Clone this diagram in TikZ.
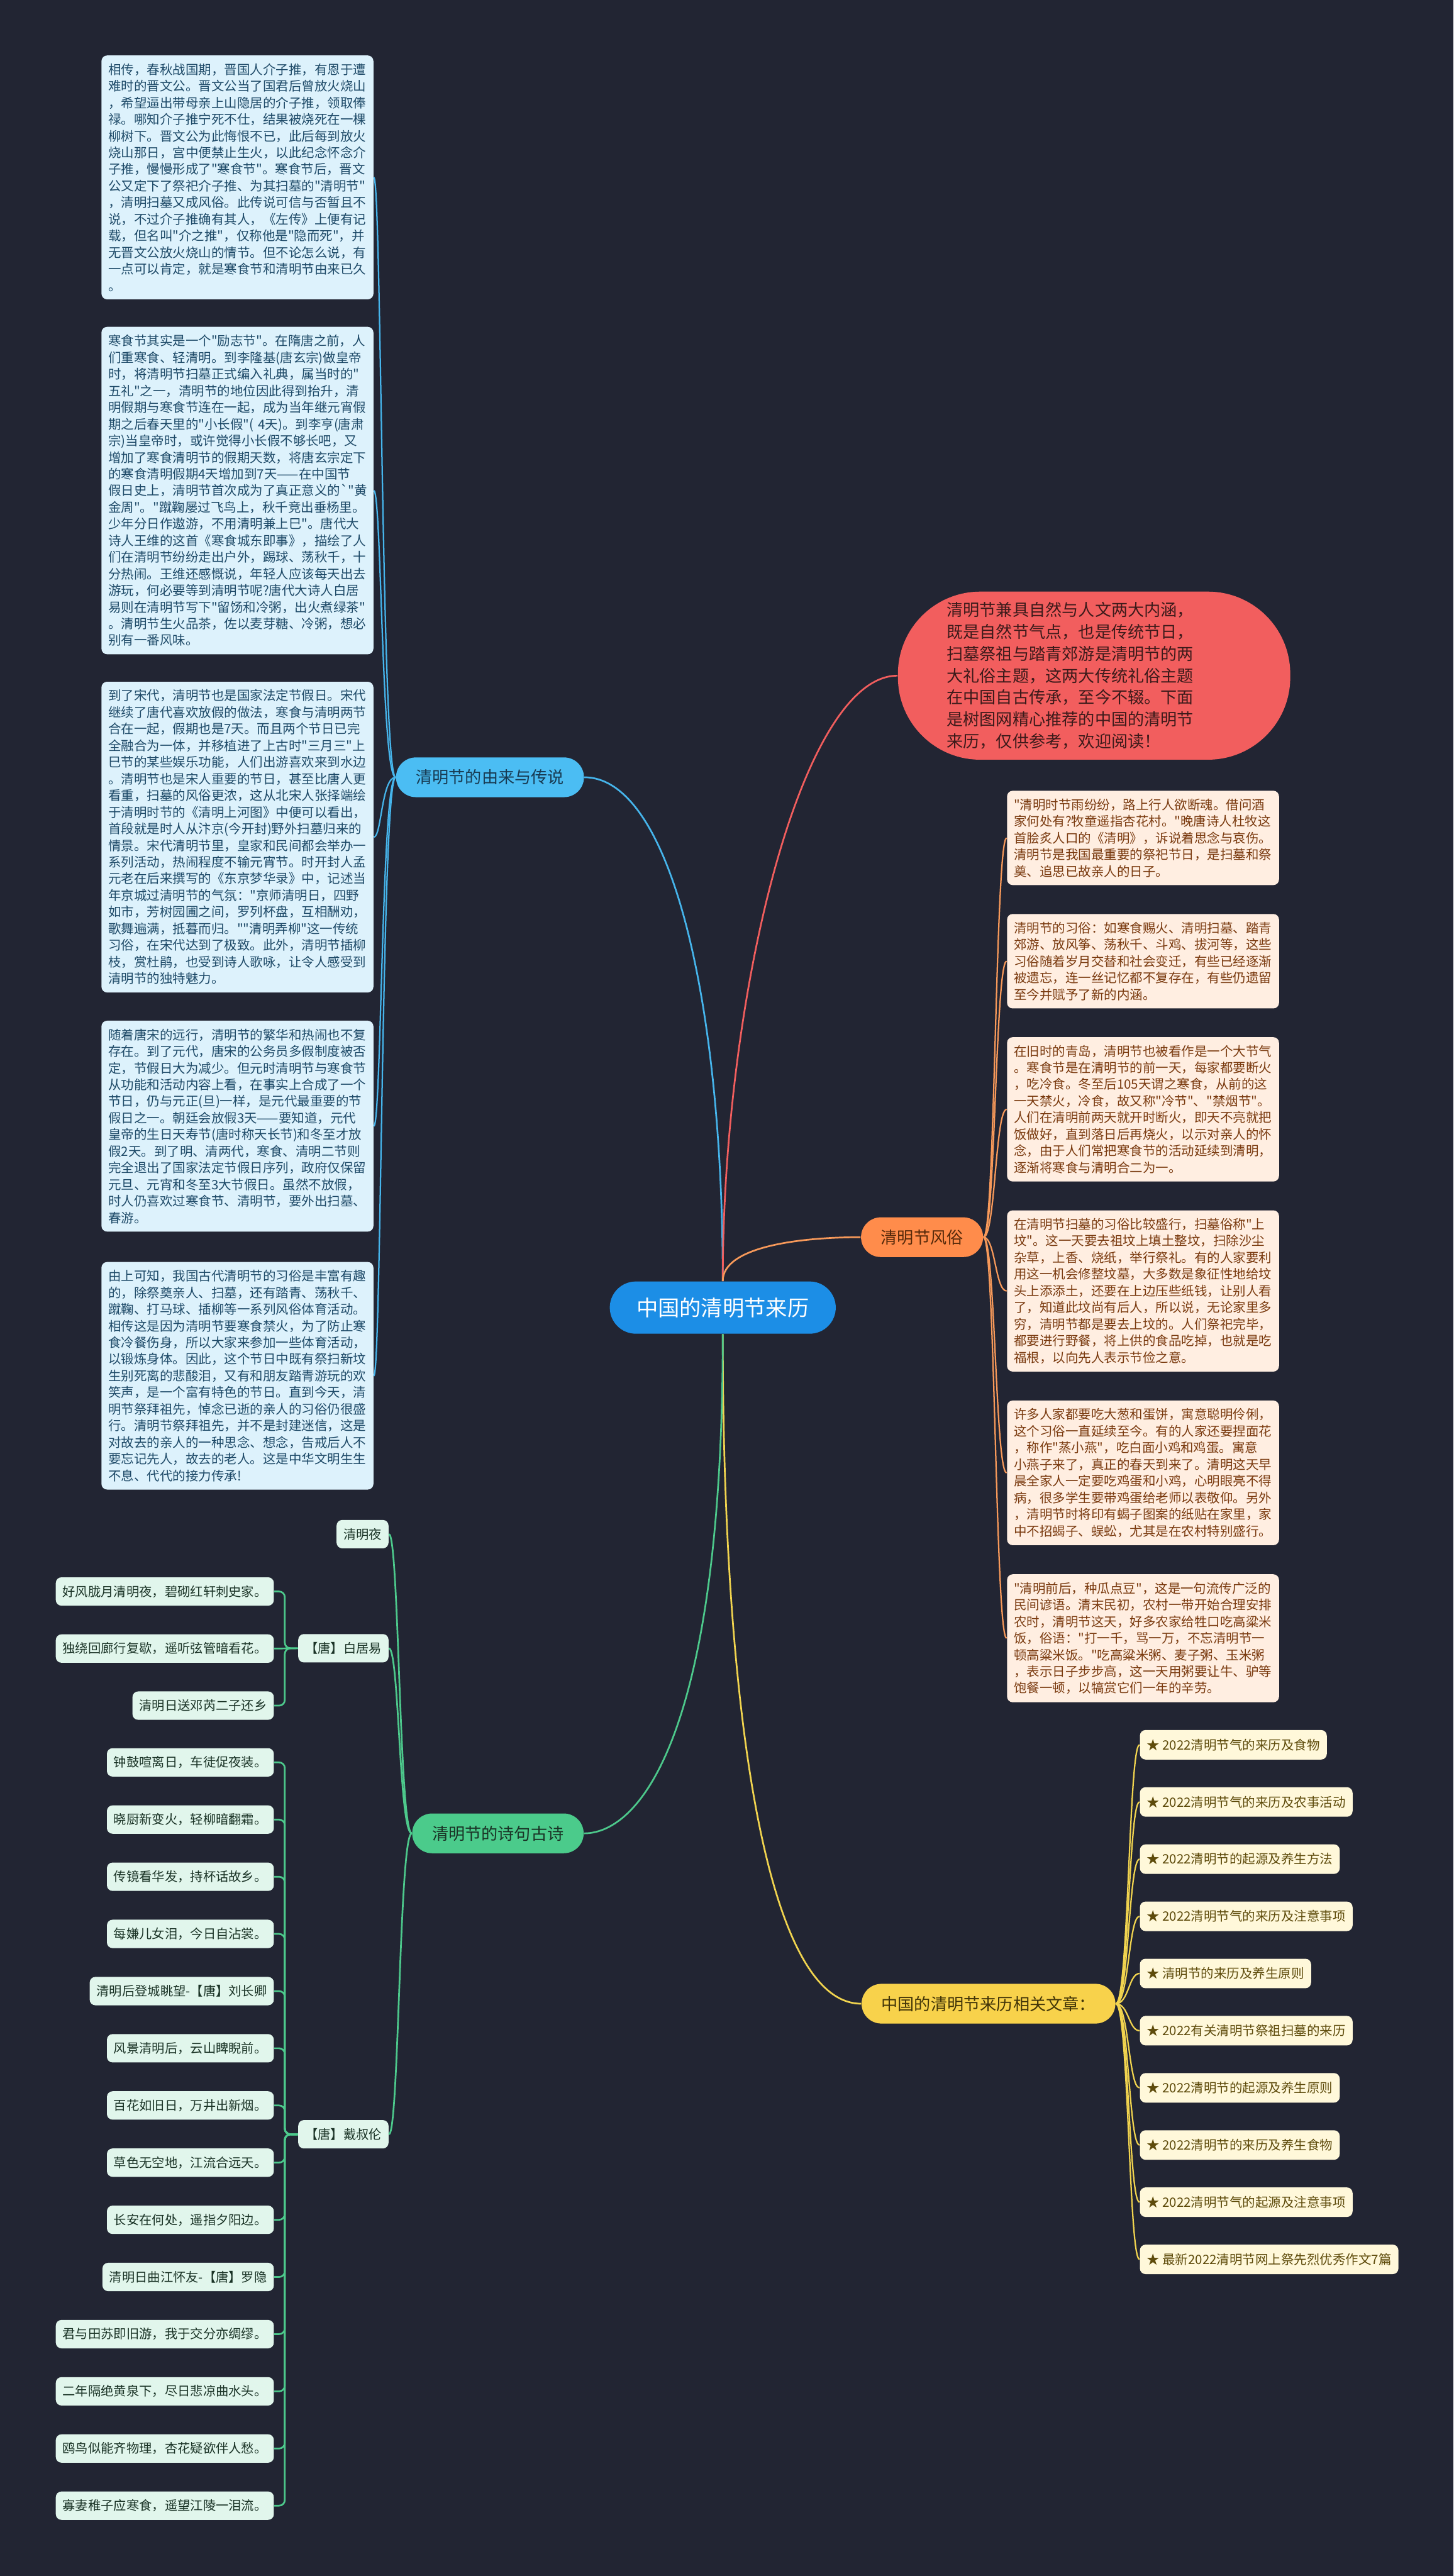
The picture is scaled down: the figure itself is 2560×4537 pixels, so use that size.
\documentclass[tikz,border=0pt]{standalone}
\usepackage{fontspec}
\newfontfamily\cjk{Noto Sans CJK SC}
\definecolor{bgdark}{HTML}{222533}
\definecolor{rootblue}{HTML}{1C8EE6}
\definecolor{legpill}{HTML}{4BBDF3}
\definecolor{legline}{HTML}{46B5EC}
\definecolor{legfill}{HTML}{DDF2FC}
\definecolor{legtext}{HTML}{1E4A68}
\definecolor{introred}{HTML}{F25E5E}
\definecolor{introtext}{HTML}{3C1A1A}
\definecolor{cuspill}{HTML}{FF8C4B}
\definecolor{cusline}{HTML}{F7995A}
\definecolor{cusfill}{HTML}{FFEEE1}
\definecolor{custext}{HTML}{7A3A0F}
\definecolor{artpill}{HTML}{F8D24B}
\definecolor{artline}{HTML}{F1D44F}
\definecolor{artfill}{HTML}{FFF8DA}
\definecolor{arttext}{HTML}{5E4B0B}
\definecolor{poempill}{HTML}{4BCB8B}
\definecolor{poemline}{HTML}{4DC98C}
\definecolor{poemfill}{HTML}{E1F6EC}
\definecolor{poemtext}{HTML}{1A3326}
\begin{document}
\begin{tikzpicture}[x=0.1mm,y=-0.1mm,
  pill/.style={rounded corners=3.5mm,minimum height=7mm,inner xsep=3.5mm,inner ysep=0mm,
    font=\cjk\fontsize{2.9mm}{3.5mm}\selectfont},
  textbox/.style={anchor=north west,rounded corners=1mm,text width=45.5mm,align=left,
    inner xsep=1.2mm,inner ysep=1.4mm,font=\cjk\fontsize{2.27mm}{2.93mm}\selectfont},
  legbox/.style={textbox,fill=legfill,text=legtext},
  cusbox/.style={textbox,fill=cusfill,text=custext},
  artbox/.style={anchor=west,fill=artfill,text=arttext,rounded corners=1mm,minimum height=5.2mm,
    inner xsep=1.2mm,font=\cjk\fontsize{2.27mm}{2.93mm}\selectfont},
  poembox/.style={anchor=east,fill=poemfill,text=poemtext,rounded corners=1mm,minimum height=5mm,
    inner xsep=1.2mm,font=\cjk\fontsize{2.25mm}{2.9mm}\selectfont},
  link/.style={line width=0.3mm},
  sublink/.style={line width=0.25mm}]
  \fill[bgdark] (0,0) rectangle (2560,4537);
  \useasboundingbox (0,0) rectangle (2560,4537);
  % --- Root ---
  \node[fill=rootblue,text=white,rounded corners=4.6mm,minimum height=9.2mm,inner xsep=4.7mm,
    font=\cjk\fontsize{3.8mm}{4.5mm}\selectfont] (root) at (1273,2303) {中国的清明节来历};
  % --- Branch pills ---
  \node[pill,fill=legpill,text=legtext!80!black] (legend) at (863,1369) {清明节的由来与传说};
  \node[pill,fill=cuspill,text=custext!70!black] (custom) at (1624,2179) {清明节风俗};
  \node[pill,fill=poempill,text=poemtext] (poems) at (877,3229) {清明节的诗句古诗};
  \node[pill,fill=artpill,text=arttext!70!black] (related) at (1741,3529) {中国的清明节来历相关文章：};
  % Intro
  \node[fill=introred,text=introtext,rounded corners=14.5mm,minimum height=29.6mm,text width=51.9mm,
    align=left,inner xsep=8.6mm,font=\cjk\fontsize{2.9mm}{3.87mm}\selectfont] (intro) at (1927,1190)
    {清明节兼具自然与人文两大内涵，\\
     既是自然节气点，也是传统节日，\\
     扫墓祭祖与踏青郊游是清明节的两\\
     大礼俗主题，这两大传统礼俗主题\\
     在中国自古传承，至今不辍。下面\\
     是树图网精心推荐的中国的清明节\\
     来历，仅供参考，欢迎阅读！};
  % Root links
  \draw[link,legline] (root.north) .. controls +(0,-500) and +(150,0) .. (legend.east);
  \draw[link,introred] (root.north) .. controls +(0,-500) and +(-170,0) .. (intro.west);
  \draw[link,cusline] (root.north) .. controls +(0,-60) and +(-110,0) .. (custom.west);
  \draw[link,artline] (root.south) .. controls +(0,650) and +(-170,0) .. (related.west);
  \draw[link,poemline] (root.south) .. controls +(0,700) and +(100,0) .. (poems.east);
  % --- Left: legends ---
  \node[legbox] (leg1) at (178,97)
    {相传，春秋战国期，晋国人介子推，有恩于遭\\
     难时的晋文公。晋文公当了国君后曾放火烧山\\
     ，希望逼出带母亲上山隐居的介子推，领取俸\\
     禄。哪知介子推宁死不仕，结果被烧死在一棵\\
     柳树下。晋文公为此悔恨不已，此后每到放火\\
     烧山那日，宫中便禁止生火，以此纪念怀念介\\
     子推，慢慢形成了"寒食节"。寒食节后，晋文\\
     公又定下了祭祀介子推、为其扫墓的"清明节"\\
     ，清明扫墓又成风俗。此传说可信与否暂且不\\
     说，不过介子推确有其人，《左传》上便有记\\
     载，但名叫"介之推"，仅称他是"隐而死"，并\\
     无晋文公放火烧山的情节。但不论怎么说，有\\
     一点可以肯定，就是寒食节和清明节由来已久\\
     。};
  \node[legbox] (leg2) at (178,575)
    {寒食节其实是一个"励志节"。在隋唐之前，人\\
     们重寒食、轻清明。到李隆基(唐玄宗)做皇帝\\
     时，将清明节扫墓正式编入礼典，属当时的"\\
     五礼"之一，清明节的地位因此得到抬升，清\\
     明假期与寒食节连在一起，成为当年继元宵假\\
     期之后春天里的"小长假"( 4天)。到李亨(唐肃\\
     宗)当皇帝时，或许觉得小长假不够长吧，又\\
     增加了寒食清明节的假期天数，将唐玄宗定下\\
     的寒食清明假期4天增加到7天——在中国节\\
     假日史上，清明节首次成为了真正意义的\symbol{96}"黄\\
     金周"。"蹴鞠屡过飞鸟上，秋千竞出垂杨里。\\
     少年分日作遨游，不用清明兼上巳"。唐代大\\
     诗人王维的这首《寒食城东即事》，描绘了人\\
     们在清明节纷纷走出户外，踢球、荡秋千，十\\
     分热闹。王维还感慨说，年轻人应该每天出去\\
     游玩，何必要等到清明节呢?唐代大诗人白居\\
     易则在清明节写下"留饧和冷粥，出火煮绿茶"\\
     。清明节生火品茶，佐以麦芽糖、冷粥，想必\\
     别有一番风味。};
  \node[legbox] (leg3) at (178,1200)
    {到了宋代，清明节也是国家法定节假日。宋代\\
     继续了唐代喜欢放假的做法，寒食与清明两节\\
     合在一起，假期也是7天。而且两个节日已完\\
     全融合为一体，并移植进了上古时"三月三"上\\
     巳节的某些娱乐功能，人们出游喜欢来到水边\\
     。清明节也是宋人重要的节日，甚至比唐人更\\
     看重，扫墓的风俗更浓，这从北宋人张择端绘\\
     于清明时节的《清明上河图》中便可以看出，\\
     首段就是时人从汴京(今开封)野外扫墓归来的\\
     情景。宋代清明节里，皇家和民间都会举办一\\
     系列活动，热闹程度不输元宵节。时开封人孟\\
     元老在后来撰写的《东京梦华录》中，记述当\\
     年京城过清明节的气氛："京师清明日，四野\\
     如市，芳树园圃之间，罗列杯盘，互相酬劝，\\
     歌舞遍满，抵暮而归。""清明弄柳"这一传统\\
     习俗，在宋代达到了极致。此外，清明节插柳\\
     枝，赏杜鹃，也受到诗人歌咏，让令人感受到\\
     清明节的独特魅力。};
  \node[legbox] (leg4) at (178,1797)
    {随着唐宋的远行，清明节的繁华和热闹也不复\\
     存在。到了元代，唐宋的公务员多假制度被否\\
     定，节假日大为减少。但元时清明节与寒食节\\
     从功能和活动内容上看，在事实上合成了一个\\
     节日，仍与元正(旦)一样，是元代最重要的节\\
     假日之一。朝廷会放假3天——要知道，元代\\
     皇帝的生日天寿节(唐时称天长节)和冬至才放\\
     假2天。到了明、清两代，寒食、清明二节则\\
     完全退出了国家法定节假日序列，政府仅保留\\
     元旦、元宵和冬至3大节假日。虽然不放假，\\
     时人仍喜欢过寒食节、清明节，要外出扫墓、\\
     春游。};
  \node[legbox] (leg5) at (178,2222)
    {由上可知，我国古代清明节的习俗是丰富有趣\\
     的，除祭奠亲人、扫墓，还有踏青、荡秋千、\\
     蹴鞠、打马球、插柳等一系列风俗体育活动。\\
     相传这是因为清明节要寒食禁火，为了防止寒\\
     食冷餐伤身，所以大家来参加一些体育活动，\\
     以锻炼身体。因此，这个节日中既有祭扫新坟\\
     生别死离的悲酸泪，又有和朋友踏青游玩的欢\\
     笑声，是一个富有特色的节日。直到今天，清\\
     明节祭拜祖先，悼念已逝的亲人的习俗仍很盛\\
     行。清明节祭拜祖先，并不是封建迷信，这是\\
     对故去的亲人的一种思念、想念，告戒后人不\\
     要忘记先人，故去的老人。这是中华文明生生\\
     不息、代代的接力传承!};
  \coordinate (legx) at (672,0);
  \foreach \i in {1,...,5}
    \draw[sublink,legline] (legend.west) .. controls (legx |- legend.west) and (legx |- leg\i.east) .. (leg\i.east);
  % --- Right: customs ---
  \node[cusbox] (cus1) at (1773,1392)
    {"清明时节雨纷纷，路上行人欲断魂。借问酒\\
     家何处有?牧童遥指杏花村。"晚唐诗人杜牧这\\
     首脍炙人口的《清明》，诉说着思念与哀伤。\\
     清明节是我国最重要的祭祀节日，是扫墓和祭\\
     奠、追思已故亲人的日子。};
  \node[cusbox] (cus2) at (1773,1609)
    {清明节的习俗：如寒食赐火、清明扫墓、踏青\\
     郊游、放风筝、荡秋千、斗鸡、拔河等，这些\\
     习俗随着岁月交替和社会变迁，有些已经逐渐\\
     被遗忘，连一丝记忆都不复存在，有些仍遗留\\
     至今并赋予了新的内涵。};
  \node[cusbox] (cus3) at (1773,1826)
    {在旧时的青岛，清明节也被看作是一个大节气\\
     。寒食节是在清明节的前一天，每家都要断火\\
     ，吃冷食。冬至后105天谓之寒食，从前的这\\
     一天禁火，冷食，故又称"冷节"、"禁烟节"。\\
     人们在清明前两天就开时断火，即天不亮就把\\
     饭做好，直到落日后再烧火，以示对亲人的怀\\
     念，由于人们常把寒食节的活动延续到清明，\\
     逐渐将寒食与清明合二为一。};
  \node[cusbox] (cus4) at (1773,2131)
    {在清明节扫墓的习俗比较盛行，扫墓俗称"上\\
     坟"。这一天要去祖坟上填土整坟，扫除沙尘\\
     杂草，上香、烧纸，举行祭礼。有的人家要利\\
     用这一机会修整坟墓，大多数是象征性地给坟\\
     头上添添土，还要在上边压些纸钱，让别人看\\
     了，知道此坟尚有后人，所以说，无论家里多\\
     穷，清明节都是要去上坟的。人们祭祀完毕，\\
     都要进行野餐，将上供的食品吃掉，也就是吃\\
     福根，以向先人表示节俭之意。};
  \node[cusbox] (cus5) at (1773,2466)
    {许多人家都要吃大葱和蛋饼，寓意聪明伶俐，\\
     这个习俗一直延续至今。有的人家还要捏面花\\
     ，称作"蒸小燕"，吃白面小鸡和鸡蛋。寓意\\
     小燕子来了，真正的春天到来了。清明这天早\\
     晨全家人一定要吃鸡蛋和小鸡，心明眼亮不得\\
     病，很多学生要带鸡蛋给老师以表敬仰。另外\\
     ，清明节时将印有蝎子图案的纸贴在家里，家\\
     中不招蝎子、蜈蚣，尤其是在农村特别盛行。};
  \node[cusbox] (cus6) at (1773,2772)
    {"清明前后，种瓜点豆"，这是一句流传广泛的\\
     民间谚语。清末民初，农村一带开始合理安排\\
     农时，清明节这天，好多农家给牲口吃高粱米\\
     饭，俗语："打一千，骂一万，不忘清明节一\\
     顿高粱米饭。"吃高粱米粥、麦子粥、玉米粥\\
     ，表示日子步步高，这一天用粥要让牛、驴等\\
     饱餐一顿，以犒赏它们一年的辛劳。};
  \coordinate (cusx) at (1753,0);
  \foreach \i in {1,...,6}
    \draw[sublink,cusline] (custom.east) .. controls (cusx |- custom.east) and (cusx |- cus\i.west) .. (cus\i.west);
  % --- Right: related articles ---
  \foreach \txt [count=\i] in {★ 2022清明节气的来历及食物,★ 2022清明节气的来历及农事活动,
      ★ 2022清明节的起源及养生方法,★ 2022清明节气的来历及注意事项,★ 清明节的来历及养生原则,
      ★ 2022有关清明节祭祖扫墓的来历,★ 2022清明节的起源及养生原则,★ 2022清明节的来历及养生食物,
      ★ 2022清明节气的起源及注意事项,★ 最新2022清明节网上祭先烈优秀作文7篇}
    \node[artbox] (art\i) at (2007,{3073+100.7*(\i-1)}) {\txt};
  \coordinate (artx) at (1988,0);
  \foreach \i in {1,...,10}
    \draw[sublink,artline] (related.east) .. controls (artx |- related.east) and (artx |- art\i.west) .. (art\i.west);
  % --- Left: poems ---
  \node[poembox] (night) at (685,2702) {清明夜};
  \node[poembox] (bai) at (685,2903) {【唐】白居易};
  \node[poembox] (dai) at (685,3759) {【唐】戴叔伦};
  \coordinate (poemx) at (703,0);
  \foreach \n in {night,bai,dai}
    \draw[link,poemline] (poems.west) .. controls (poemx |- poems.west) and (poemx |- \n.east) .. (\n.east);
  \foreach \txt [count=\i] in {好风胧月清明夜，碧砌红轩刺史家。,独绕回廊行复歇，遥听弦管暗看花。,清明日送邓芮二子还乡}
    \node[poembox] (bai\i) at (483,{2803+100.5*(\i-1)}) {\txt};
  \foreach \txt [count=\i] in {钟鼓喧离日，车徒促夜装。,晓厨新变火，轻柳暗翻霜。,传镜看华发，持杯话故乡。,
      每嫌儿女泪，今日自沾裳。,清明后登城眺望-【唐】刘长卿,风景清明后，云山睥睨前。,
      百花如旧日，万井出新烟。,草色无空地，江流合远天。,长安在何处，遥指夕阳边。,
      清明日曲江怀友-【唐】罗隐,君与田苏即旧游，我于交分亦绸缪。,二年隔绝黄泉下，尽日悲凉曲水头。,
      鸥鸟似能齐物理，杏花疑欲伴人愁。,寡妻稚子应寒食，遥望江陵一泪流。}
    \node[poembox] (dai\i) at (483,{3104+100.7*(\i-1)}) {\txt};
  \foreach \i in {1,3}
    \draw[link,poemline,rounded corners=1mm] (bai.west) -- ++(-23,0) |- (bai\i.east);
  \draw[link,poemline] (bai.west) -- (bai2.east);
  \foreach \i in {1,...,14}
    \draw[link,poemline,rounded corners=1mm] (dai.west) -- ++(-23,0) |- (dai\i.east);
\end{tikzpicture}
\end{document}
